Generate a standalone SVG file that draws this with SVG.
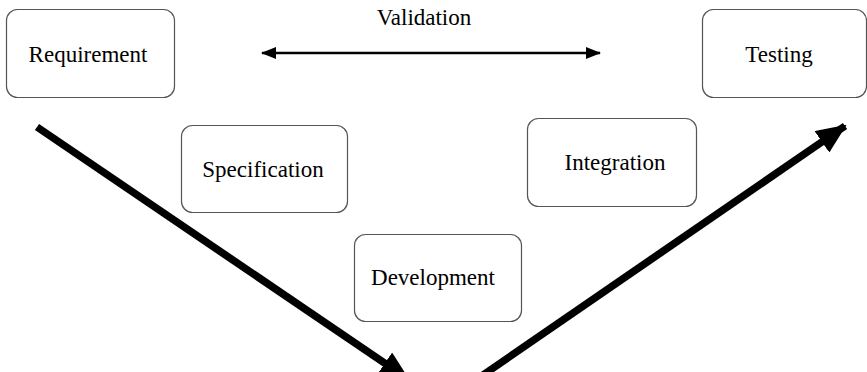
<svg xmlns="http://www.w3.org/2000/svg" width="867" height="372" viewBox="0 0 867 372">
<style>
.box{fill:#fff;stroke:#555;stroke-width:1.2}
.lbl{font-family:"Liberation Serif",serif;font-size:23px;fill:#000;text-anchor:middle}
.thin{stroke:#000;stroke-width:2.5;fill:none}
.thick{stroke:#000;stroke-width:7.5;fill:none}
</style>
<defs>
<marker id="ah" markerUnits="userSpaceOnUse" markerWidth="15" markerHeight="12" refX="14" refY="6" orient="auto-start-reverse">
<path d="M0,0 L15,6 L0,12 Z" fill="#000"/>
</marker>
<marker id="ahb" markerUnits="userSpaceOnUse" markerWidth="30" markerHeight="26" refX="28" refY="13" orient="auto">
<path d="M0,0 L30,13 L0,26 Z" fill="#000"/>
</marker>
</defs>
<rect width="867" height="372" fill="#fff"/>
<g id="requirement"><rect class="box" x="6.5" y="9.5" width="168" height="88" rx="11"/><text class="lbl" x="88" y="62">Requirement</text></g>
<g id="testing"><rect class="box" x="702.5" y="9.5" width="164" height="88" rx="11"/><text class="lbl" x="779" y="62">Testing</text></g>
<g id="specification"><rect class="box" x="181.5" y="125.5" width="166" height="87" rx="11"/><text class="lbl" x="263" y="177">Specification</text></g>
<g id="integration"><rect class="box" x="527.5" y="118.5" width="169" height="88" rx="11"/><text class="lbl" x="615" y="170">Integration</text></g>
<g id="development"><rect class="box" x="354.5" y="234.5" width="167" height="87" rx="11"/><text class="lbl" x="433" y="285">Development</text></g>
<g id="validation-label"><text class="lbl" x="424" y="25">Validation</text></g>
<g id="connectors">
<line class="thin" x1="262" y1="53" x2="600" y2="53" marker-start="url(#ah)" marker-end="url(#ah)"/>
<line class="thick" x1="37" y1="127" x2="408" y2="379" marker-end="url(#ahb)"/>
<line class="thick" x1="483" y1="375" x2="845" y2="126" marker-end="url(#ahb)"/>
</g>
</svg>
